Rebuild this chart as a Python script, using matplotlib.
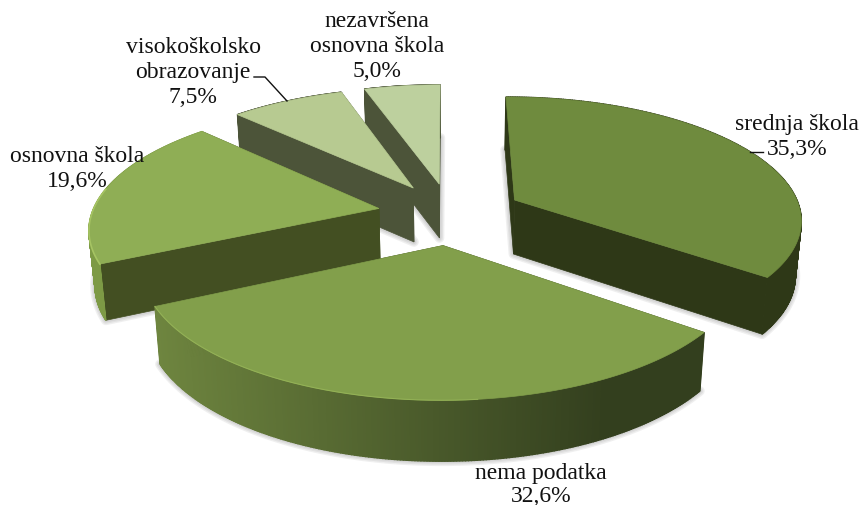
import matplotlib
matplotlib.use('Agg')
import matplotlib.pyplot as plt
from matplotlib.colors import to_rgb
from matplotlib.patches import Polygon
import numpy as np

plt.rcParams['font.family'] = 'Liberation Serif'

categories = ['srednja škola', 'nema podatka', 'osnovna škola', 'visokoškolsko\nobrazovanje', 'nezavršena\nosnovna škola']
shares = [35.3, 32.6, 19.6, 7.5, 5.0]
share_labels = ['35,3%', '32,6%', '19,6%', '7,5%', '5,0%']

top_colors = ['#6f8b3e', '#829f4b', '#8fae55', '#b7ca91', '#bdd09e']
wall_colors = ['#2e3817', '#38441f', '#434f22', '#4c5439', '#4c5439']
rim_colors = ['#2e3817', None, '#7d9a45', '#4c5439', '#4c5439']

# label anchor (centre x, first baseline y) in pixels
label_pos = [(797, 130), (541, 479), (77, 162), (193, 53), (377, 27)]
line_gap = [25, 23, 25, 25, 25]

# fitted view of the tilted pie: centre, x and y radius, perspective, explode, start angle
cx, cy, rx, ry, persp, explode, start = 450.4, 214.6, 287.0, 121.75, 0.146, 0.254, -0.002

fracs = np.array(shares) / sum(shares)
edges = np.concatenate([[0], np.cumsum(fracs)]) * 2 * np.pi


def slice_point(i, ang, r):
    mid = (edges[i] + edges[i + 1]) / 2 + start
    X = explode * np.sin(mid) + r * np.sin(ang + start)
    Y = explode * np.cos(mid) + r * np.cos(ang + start)
    s = 1 / (1 + persp * Y)
    return cx + rx * X * s, cy - ry * Y * s


def drop(x, y):
    # same point on the underside of the slice
    d = np.interp(y, [90, 200, 402], [53, 54, 61])
    return cx + (x - cx) * 0.983, y + d


fig = plt.figure(figsize=(8.59, 5.06), dpi=100)
ax = fig.add_axes([0, 0, 1, 1])
ax.set_xlim(0, 859)
ax.set_ylim(506, 0)
ax.axis('off')

for i in [4, 3, 2, 0, 1]:
    angs = np.linspace(edges[i], edges[i + 1], 240)
    arc_x, arc_y = slice_point(i, angs, 1)
    tx, ty = slice_point(i, 0, 0)
    bx, by = drop(arc_x, arc_y)
    tbx, tby = drop(tx, ty)

    # soft shadow round the underside
    under = np.c_[np.r_[tbx, bx], np.r_[tby, by]]
    for lw in (7, 5, 3):
        ax.add_patch(Polygon(under, closed=True, facecolor='none', edgecolor='#555555', alpha=0.09, lw=lw, joinstyle='round'))

    # cut faces
    for j in (0, -1):
        quad = [(tx, ty), (arc_x[j], arc_y[j]), (bx[j], by[j]), (tbx, tby)]
        ax.add_patch(Polygon(quad, closed=True, facecolor=wall_colors[i], edgecolor=wall_colors[i], lw=0.5))

    # outer wall
    for j in range(len(angs) - 1):
        c = rim_colors[i]
        if c is None:
            f = np.clip((arc_x[j] - 155) / 450, 0, 1)
            c = (1 - f) * np.array(to_rgb('#6e853f')) + f * np.array(to_rgb('#333f1e'))
        quad = [(arc_x[j], arc_y[j]), (arc_x[j + 1], arc_y[j + 1]), (bx[j + 1], by[j + 1]), (bx[j], by[j])]
        ax.add_patch(Polygon(quad, closed=True, facecolor=c, edgecolor=c, lw=1))

    # top
    ax.add_patch(Polygon(np.c_[np.r_[tx, arc_x], np.r_[ty, arc_y]], closed=True, facecolor=top_colors[i], edgecolor=top_colors[i], lw=0.5))

    # light bevel on the front edge
    if i == 1:
        m = arc_x < 480
        ax.plot(arc_x[m], arc_y[m], color='#93b156', lw=0.8)
    if i == 2:
        m = arc_x < 106
        ax.plot(arc_x[m], arc_y[m], color='#a6c463', lw=1.2)

for name, val, (lx, ly), gap in zip(categories, share_labels, label_pos, line_gap):
    for k, line in enumerate(name.split('\n') + [val]):
        ax.text(lx, ly + k * gap, line, ha='center', va='baseline', fontsize=17, color='#111111')

# leader lines
ax.plot([254, 265, 287], [78, 78, 102], color='#111111', lw=1)
ax.plot([750, 763], [153, 153], color='#111111', lw=1)

plt.savefig('out.png', dpi=100)
